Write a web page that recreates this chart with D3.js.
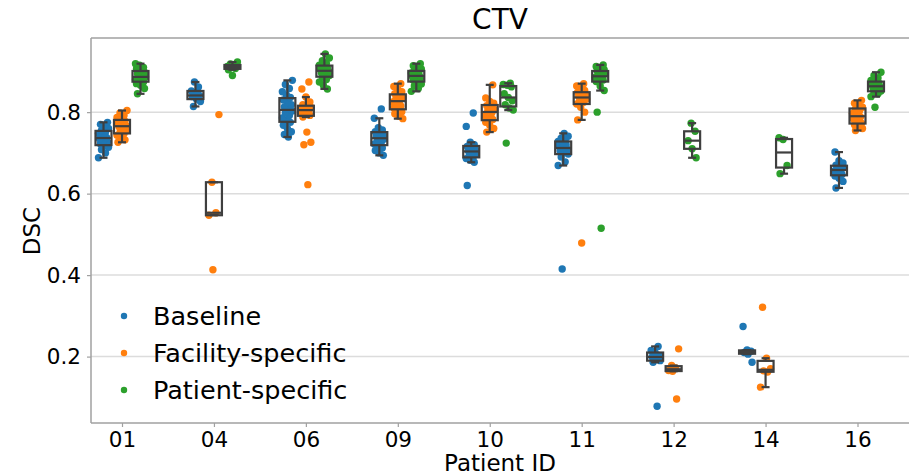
<!DOCTYPE html>
<html>
<head>
<meta charset="utf-8">
<script src="https://cdn.jsdelivr.net/npm/d3@7"></script>
<style>
  body { margin: 0; background: #fff; }
  text { font-family: "DejaVu Sans", sans-serif; fill: #000; }
</style>
</head>
<body>
<div id="chart"></div>
<script>
const patients = ["01", "04", "06", "09", "10", "11", "12", "14", "16"];
const groups = ["Baseline", "Facility-specific", "Patient-specific"];
const colors = ["#1f77b4", "#ff7f0e", "#2ca02c"];
const yTicks = [0.2, 0.4, 0.6, 0.8];

// DSC per patient, one list per group
const baseline = [
    [0.688, 0.700, 0.708, 0.714, 0.718, 0.722, 0.727, 0.731, 0.735, 0.738, 0.742, 0.748, 0.751, 0.755, 0.760, 0.765, 0.770, 0.775],
    [0.814, 0.826, 0.832, 0.838, 0.841, 0.846, 0.852, 0.862, 0.874],
    [0.739, 0.745, 0.752, 0.760, 0.768, 0.775, 0.780, 0.786, 0.792, 0.798, 0.803, 0.808, 0.813, 0.818, 0.824, 0.830, 0.836, 0.842, 0.850, 0.858, 0.868, 0.878],
    [0.694, 0.700, 0.706, 0.712, 0.718, 0.722, 0.726, 0.730, 0.734, 0.738, 0.741, 0.744, 0.748, 0.752, 0.756, 0.762, 0.785, 0.808],
    [0.620, 0.677, 0.682, 0.686, 0.690, 0.694, 0.698, 0.702, 0.705, 0.708, 0.712, 0.716, 0.720, 0.726, 0.765, 0.798],
    [0.415, 0.669, 0.678, 0.690, 0.697, 0.701, 0.705, 0.709, 0.712, 0.716, 0.720, 0.724, 0.728, 0.731, 0.736, 0.741, 0.748],
    [0.078, 0.186, 0.190, 0.195, 0.199, 0.203, 0.210, 0.215, 0.225],
    [0.186, 0.206, 0.210, 0.213, 0.216, 0.274],
    [0.614, 0.630, 0.638, 0.643, 0.647, 0.651, 0.655, 0.658, 0.661, 0.664, 0.667, 0.670, 0.675, 0.681, 0.702]
];
const facility = [
    [0.726, 0.732, 0.738, 0.743, 0.747, 0.750, 0.755, 0.760, 0.764, 0.767, 0.770, 0.774, 0.778, 0.782, 0.787, 0.792, 0.798, 0.804],
    [0.413, 0.547, 0.553, 0.628, 0.794],
    [0.622, 0.720, 0.726, 0.751, 0.788, 0.792, 0.795, 0.798, 0.801, 0.804, 0.806, 0.808, 0.810, 0.812, 0.815, 0.818, 0.825, 0.837, 0.857, 0.874],
    [0.784, 0.790, 0.796, 0.801, 0.806, 0.810, 0.815, 0.820, 0.825, 0.829, 0.832, 0.836, 0.840, 0.845, 0.850, 0.856, 0.863, 0.870],
    [0.751, 0.760, 0.768, 0.775, 0.782, 0.786, 0.792, 0.798, 0.803, 0.806, 0.810, 0.816, 0.822, 0.826, 0.835, 0.867],
    [0.479, 0.781, 0.800, 0.812, 0.820, 0.824, 0.828, 0.832, 0.836, 0.839, 0.842, 0.845, 0.849, 0.853, 0.858, 0.864, 0.870],
    [0.096, 0.164, 0.166, 0.172, 0.178, 0.219],
    [0.125, 0.162, 0.165, 0.170, 0.196, 0.321],
    [0.755, 0.760, 0.765, 0.769, 0.773, 0.778, 0.783, 0.788, 0.792, 0.797, 0.803, 0.808, 0.812, 0.817, 0.822, 0.829]
];
const patientSpecific = [
    [0.845, 0.858, 0.866, 0.870, 0.874, 0.877, 0.880, 0.884, 0.886, 0.887, 0.890, 0.894, 0.898, 0.902, 0.906, 0.910, 0.915, 0.919],
    [0.890, 0.904, 0.907, 0.910, 0.912, 0.915, 0.918, 0.923],
    [0.857, 0.866, 0.874, 0.880, 0.886, 0.890, 0.893, 0.897, 0.900, 0.903, 0.906, 0.909, 0.912, 0.915, 0.920, 0.926, 0.933, 0.943],
    [0.851, 0.858, 0.864, 0.869, 0.874, 0.878, 0.882, 0.885, 0.888, 0.890, 0.893, 0.896, 0.899, 0.902, 0.906, 0.910, 0.914, 0.919],
    [0.724, 0.805, 0.810, 0.818, 0.828, 0.836, 0.845, 0.862, 0.866, 0.868, 0.871],
    [0.515, 0.800, 0.853, 0.864, 0.875, 0.879, 0.882, 0.885, 0.888, 0.891, 0.894, 0.897, 0.901, 0.904, 0.908, 0.912, 0.916],
    [0.688, 0.710, 0.730, 0.753, 0.773],
    [0.649, 0.669, 0.733, 0.737],
    [0.812, 0.838, 0.845, 0.849, 0.852, 0.856, 0.859, 0.862, 0.865, 0.868, 0.871, 0.874, 0.878, 0.884, 0.890, 0.898]
];
const series = [baseline, facility, patientSpecific];

const width = 909;
const height = 475;
const margin = { top: 38, right: -2, bottom: 52, left: 91 };

const svg = d3.select("div#chart").append("svg")
    .attr("width", width)
    .attr("height", height)

svg.append("rect").attr("width", width).attr("height", height).attr("fill", "#fff")

const x = d3.scalePoint().domain(patients).range([122, 857.5])
const y = d3.scaleLinear().domain([0.037, 0.982]).range([height - margin.bottom, margin.top])

const dodge = [-18.5, 0, 18.5];
const boxW = 16;
const gridColor = "#dcdcdc";
const spineColor = "#a0a0a0";
const boxColor = "#3f3f3f";

// grid
svg.append("g").selectAll("line")
    .data(yTicks)
    .join("line")
    .attr("x1", margin.left).attr("x2", width)
    .attr("y1", d => y(d)).attr("y2", d => y(d))
    .attr("stroke", gridColor).attr("stroke-width", 1.5)

// axes
const xAxis = d3.axisBottom(x).tickSize(4).tickPadding(5)
const yAxis = d3.axisLeft(y).tickValues(yTicks).tickFormat(d3.format(".1f")).tickSize(4).tickPadding(6)

const xAxisGroup = svg.append("g")
    .attr("transform", `translate(0, ${height - margin.bottom})`)
    .call(xAxis)
xAxisGroup.select(".domain").remove()
xAxisGroup.selectAll("line").attr("stroke", spineColor).attr("stroke-width", 1.2)
xAxisGroup.selectAll("text").attr("font-size", 21.5).attr("font-family", "DejaVu Sans").attr("fill", "#000")

const yAxisGroup = svg.append("g")
    .attr("transform", `translate(${margin.left}, 0)`)
    .call(yAxis)
yAxisGroup.select(".domain").remove()
yAxisGroup.selectAll("line").attr("stroke", spineColor).attr("stroke-width", 1.2)
yAxisGroup.selectAll("text").attr("font-size", 21.5).attr("font-family", "DejaVu Sans").attr("fill", "#000")

// spines (left, top, bottom)
const spines = svg.append("g").attr("stroke", spineColor).attr("stroke-width", 1.5)
spines.append("line").attr("x1", margin.left).attr("x2", margin.left).attr("y1", margin.top).attr("y2", height - margin.bottom)
spines.append("line").attr("x1", margin.left).attr("x2", width).attr("y1", margin.top).attr("y2", margin.top)
spines.append("line").attr("x1", margin.left).attr("x2", width).attr("y1", height - margin.bottom).attr("y2", height - margin.bottom)

// strip points (deterministic spread)
const points = [];
series.forEach((s, g) => {
    s.forEach((vals, p) => {
        vals.forEach((v, i) => {
            const j = (((i * 7 + p * 3 + g) % 11) / 10 - 0.5) * 10;
            points.push({ g: g, cx: x(patients[p]) + dodge[g] + j, v: v });
        });
    });
});

svg.append("g").selectAll("circle")
    .data(points)
    .join("circle")
    .attr("cx", d => d.cx)
    .attr("cy", d => y(d.v))
    .attr("r", 3.7)
    .attr("fill", d => colors[d.g])

// boxes
function boxStats(vals) {
    const s = vals.slice().sort(d3.ascending);
    const q1 = d3.quantileSorted(s, 0.25);
    const med = d3.quantileSorted(s, 0.5);
    const q3 = d3.quantileSorted(s, 0.75);
    const iqr = q3 - q1;
    const lo = d3.min(s.filter(v => v >= q1 - 1.5 * iqr));
    const hi = d3.max(s.filter(v => v <= q3 + 1.5 * iqr));
    return { q1, med, q3, lo, hi };
}

const boxes = [];
series.forEach((s, g) => {
    s.forEach((vals, p) => {
        boxes.push(Object.assign({ cx: x(patients[p]) + dodge[g] }, boxStats(vals)));
    });
});

const boxG = svg.append("g").selectAll("g")
    .data(boxes)
    .join("g")
    .attr("stroke", boxColor)
    .attr("stroke-width", 2.2)
    .attr("fill", "none")

boxG.append("line").attr("x1", d => d.cx).attr("x2", d => d.cx).attr("y1", d => y(d.q3)).attr("y2", d => y(d.hi))
boxG.append("line").attr("x1", d => d.cx).attr("x2", d => d.cx).attr("y1", d => y(d.q1)).attr("y2", d => y(d.lo))
boxG.append("line").attr("x1", d => d.cx - boxW / 4).attr("x2", d => d.cx + boxW / 4).attr("y1", d => y(d.hi)).attr("y2", d => y(d.hi))
boxG.append("line").attr("x1", d => d.cx - boxW / 4).attr("x2", d => d.cx + boxW / 4).attr("y1", d => y(d.lo)).attr("y2", d => y(d.lo))
boxG.append("rect")
    .attr("x", d => d.cx - boxW / 2)
    .attr("y", d => y(d.q3))
    .attr("width", boxW)
    .attr("height", d => y(d.q1) - y(d.q3))
boxG.append("line").attr("x1", d => d.cx - boxW / 2).attr("x2", d => d.cx + boxW / 2).attr("y1", d => y(d.med)).attr("y2", d => y(d.med))

// labels
svg.append("text").attr("x", 500).attr("y", 29).attr("text-anchor", "middle").attr("font-size", 28).text("CTV")
svg.append("text").attr("x", 500).attr("y", 471).attr("text-anchor", "middle").attr("font-size", 23).text("Patient ID")
svg.append("text").attr("transform", "translate(40, 231) rotate(-90)").attr("text-anchor", "middle").attr("font-size", 23).text("DSC")

// legend
const legend = svg.append("g").selectAll("g")
    .data(groups)
    .join("g")
    .attr("transform", (d, i) => `translate(124, ${316 + i * 37})`)
legend.append("circle").attr("r", 3.2).attr("fill", (d, i) => colors[i])
legend.append("text").attr("x", 29).attr("y", 9).attr("font-size", 25.5).text(d => d)
</script>
</body>
</html>
